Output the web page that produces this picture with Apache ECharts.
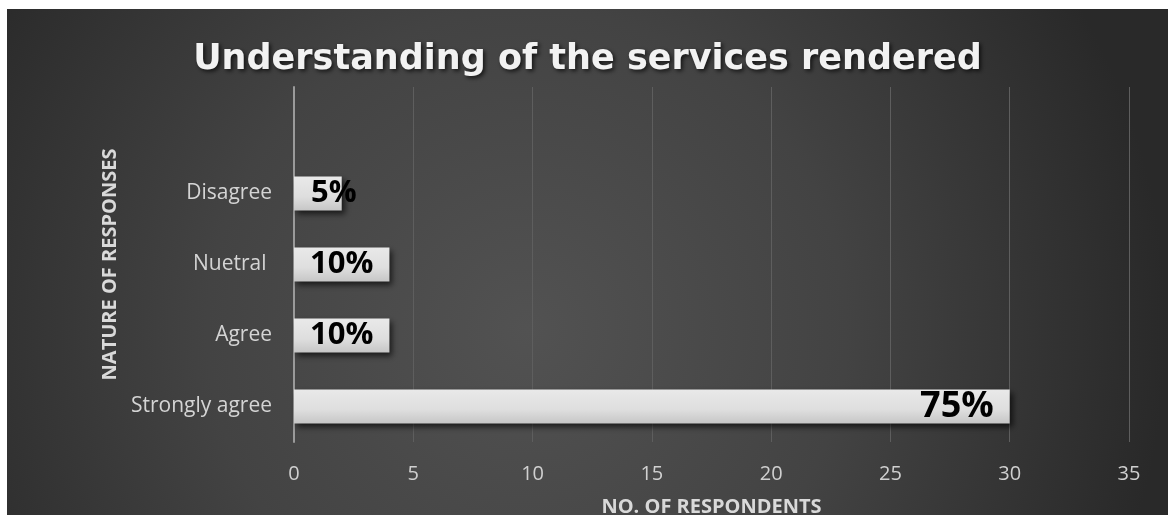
<!DOCTYPE html>
<html>
<head>
<meta charset="utf-8">
<script src="https://cdn.jsdelivr.net/npm/echarts@6/dist/echarts.min.js"></script>
<style>
  html, body { margin: 0; padding: 0; background: #ffffff; width: 1168px; height: 515px; overflow: hidden; }
  #chart { position: absolute; left: 7px; top: 9px; width: 1161px; height: 506px; }
</style>
</head>
<body>
<div id="chart"></div>
<script>
// Survey responses: number of respondents per answer (bottom to top).
// The last, blank category leaves an empty band above "Disagree".
const categories = ['Strongly agree', 'Agree', 'Nuetral ', 'Disagree', ''];
const respondents = [30, 4, 4, 2, null];
const xTicks = { min: 0, max: 35, interval: 5 };

const total = respondents.reduce((s, v) => s + (v || 0), 0);
const pct = v => Math.round(v / total * 100) + '%';

const FONT = '"Open Sans", "Liberation Sans", sans-serif';

const barData = respondents.map(v => {
  if (v == null) return { value: null };
  const small = v / xTicks.max < 0.07;
  return {
    value: v,
    label: {
      position: small ? 'insideLeft' : 'insideRight',
      distance: small ? 17 : 16,
      fontSize: v / xTicks.max > 0.5 ? 36 : 31
    }
  };
});

const chart = echarts.init(document.getElementById('chart'), null, { renderer: 'canvas' });
chart.setOption({
  backgroundColor: new echarts.graphic.RadialGradient(520, 320, 640, [
    { offset: 0, color: '#525252' },
    { offset: 0.5, color: '#434343' },
    { offset: 1, color: '#292929' }
  ], true),
  animation: false,
  title: {
    text: 'Understanding of the services rendered',
    left: 'center',
    top: 28,
    textStyle: {
      fontFamily: '"DejaVu Sans", sans-serif',
      fontWeight: 'bold',
      fontSize: 35,
      color: '#f2f2f2',
      textShadowColor: 'rgba(0,0,0,0.7)',
      textShadowBlur: 4,
      textShadowOffsetX: 2,
      textShadowOffsetY: 2
    }
  },
  grid: { left: 287, right: 39, top: 78, bottom: 73, containLabel: false, outerBoundsMode: 'none' },
  xAxis: {
    type: 'value',
    min: xTicks.min,
    max: xTicks.max,
    interval: xTicks.interval,
    name: 'NO. OF RESPONDENTS',
    nameLocation: 'middle',
    nameGap: 55,
    nameTextStyle: { fontFamily: FONT, fontWeight: 'bold', fontSize: 20, color: '#d9d9d9' },
    axisLine: { show: false },
    axisTick: { show: false },
    axisLabel: { fontFamily: FONT, fontSize: 20, color: '#d0d0d0', margin: 22 },
    splitLine: { show: true, lineStyle: { color: '#5e5e5e', width: 1 } }
  },
  yAxis: {
    type: 'category',
    data: categories,
    name: 'NATURE OF RESPONSES',
    nameLocation: 'middle',
    nameGap: 174,
    nameRotate: 90,
    nameTextStyle: { fontFamily: FONT, fontWeight: 'bold', fontSize: 20, color: '#d9d9d9' },
    axisLine: { show: true, lineStyle: { color: '#9a9a9a', width: 2 } },
    axisTick: { show: false },
    axisLabel: { fontFamily: FONT, fontSize: 21, color: '#d4d4d4', margin: 22 },
    splitLine: { show: false }
  },
  series: [{
    type: 'bar',
    data: barData,
    barWidth: 34,
    itemStyle: {
      color: new echarts.graphic.LinearGradient(0, 0, 0, 1, [
        { offset: 0, color: '#e9e9e9' },
        { offset: 0.6, color: '#dedede' },
        { offset: 1, color: '#c6c6c6' }
      ]),
      shadowColor: 'rgba(0,0,0,0.65)',
      shadowBlur: 6,
      shadowOffsetX: 3,
      shadowOffsetY: 3
    },
    label: {
      show: true,
      fontFamily: FONT,
      fontWeight: 'bold',
      color: '#000000',
      formatter: p => pct(p.value)
    }
  }]
});
</script>
</body>
</html>
